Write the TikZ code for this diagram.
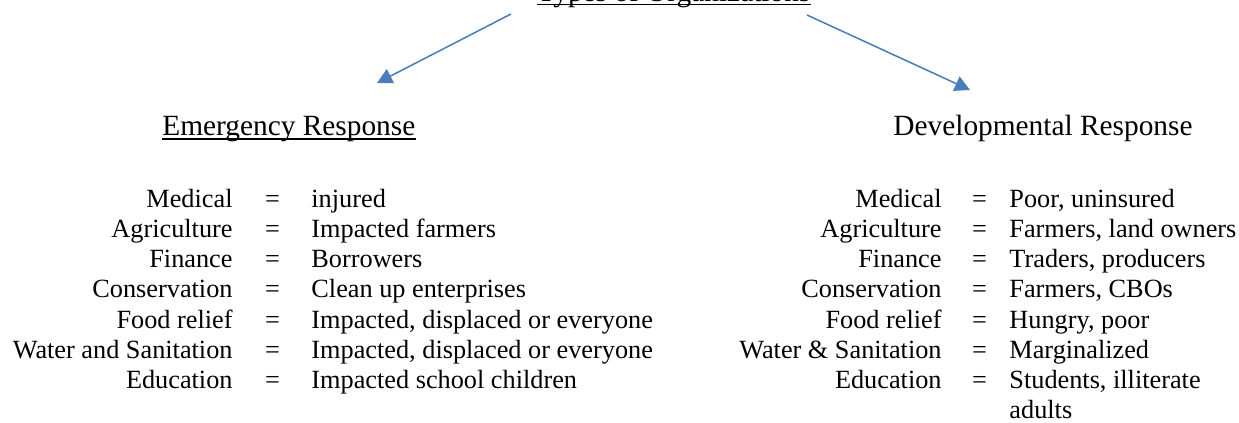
\documentclass[tikz,border=0pt]{standalone}
\usepackage{fontspec}
\setmainfont{Liberation Serif}
\newfontfamily\tnr{Liberation Serif}
\usetikzlibrary{arrows.meta}
\definecolor{arrowblue}{HTML}{4A7EBB}
\begin{document}
\begin{tikzpicture}[x=0.4566pt, y=-0.4566pt,
  txt/.style={inner sep=0pt, font=\tnr\fontsize{12}{14}\selectfont},
  lbl/.style={txt, anchor=base east},
  eqs/.style={txt, anchor=base},
  val/.style={txt, anchor=base west},
  head/.style={inner sep=0pt, anchor=base west, font=\tnr\fontsize{13.4}{16}\selectfont},
  uline/.style={draw=black, line width=0.6pt},
  arr/.style={draw=arrowblue, line width=0.7pt, -{Triangle[length=6.9pt,width=7.1pt]}}]
\useasboundingbox (0,0) rectangle (1239,423);
\clip (0,0) rectangle (1239,423);

% title (mostly cut off at the top, as in the reference)
\node[head] (title) at (537,1.5) {Types of Organizations};
\draw[uline] ([yshift=-1.4pt]title.base west) -- ([yshift=-1.4pt]title.base east);

% headings
\node[head] (emer) at (162,136) {Emergency Response};
\draw[uline] ([yshift=-1.4pt]emer.base west) -- ([yshift=-1.4pt]emer.base east);
\node[head] (devel) at (893,136) {Developmental Response};

% arrows
\coordinate (a1s) at (511,14);
\coordinate (a1e) at (377,83);
\coordinate (a2s) at (807,15);
\coordinate (a2e) at (970,90);
\draw[arr] (a1s) -- (a1e);
\draw[arr] (a2s) -- (a2e);

% left list
\node[lbl] (l1) at (233,208) {Medical};
\node[eqs] (le1) at (272.5,208) {=};
\node[val] (lv1) at (311,208) {injured};
\node[lbl] (l2) at (233,238) {Agriculture};
\node[eqs] (le2) at (272.5,238) {=};
\node[val] (lv2) at (311,238) {Impacted farmers};
\node[lbl] (l3) at (233,268) {Finance};
\node[eqs] (le3) at (272.5,268) {=};
\node[val] (lv3) at (311,268) {Borrowers};
\node[lbl] (l4) at (233,298) {Conservation};
\node[eqs] (le4) at (272.5,298) {=};
\node[val] (lv4) at (311,298) {Clean up enterprises};
\node[lbl] (l5) at (233,328) {Food relief};
\node[eqs] (le5) at (272.5,328) {=};
\node[val] (lv5) at (311,328) {Impacted, displaced or everyone};
\node[lbl] (l6) at (233,358) {Water and Sanitation};
\node[eqs] (le6) at (272.5,358) {=};
\node[val] (lv6) at (311,358) {Impacted, displaced or everyone};
\node[lbl] (l7) at (233,388) {Education};
\node[eqs] (le7) at (272.5,388) {=};
\node[val] (lv7) at (311,388) {Impacted school children};

% right list
\node[lbl] (r1) at (942,208) {Medical};
\node[eqs] (re1) at (979.5,208) {=};
\node[val] (rv1) at (1009,208) {Poor, uninsured};
\node[lbl] (r2) at (942,238) {Agriculture};
\node[eqs] (re2) at (979.5,238) {=};
\node[val] (rv2) at (1009,238) {Farmers, land owners};
\node[lbl] (r3) at (942,268) {Finance};
\node[eqs] (re3) at (979.5,268) {=};
\node[val] (rv3) at (1009,268) {Traders, producers};
\node[lbl] (r4) at (942,298) {Conservation};
\node[eqs] (re4) at (979.5,298) {=};
\node[val] (rv4) at (1009,298) {Farmers, CBOs};
\node[lbl] (r5) at (942,328) {Food relief};
\node[eqs] (re5) at (979.5,328) {=};
\node[val] (rv5) at (1009,328) {Hungry, poor};
\node[lbl] (r6) at (942,358) {Water \& Sanitation};
\node[eqs] (re6) at (979.5,358) {=};
\node[val] (rv6) at (1009,358) {Marginalized};
\node[lbl] (r7) at (942,388) {Education};
\node[eqs] (re7) at (979.5,388) {=};
\node[val] (rv7) at (1009,388) {Students, illiterate};
\node[val] (rv8) at (1009,418) {adults};
\end{tikzpicture}
\end{document}
